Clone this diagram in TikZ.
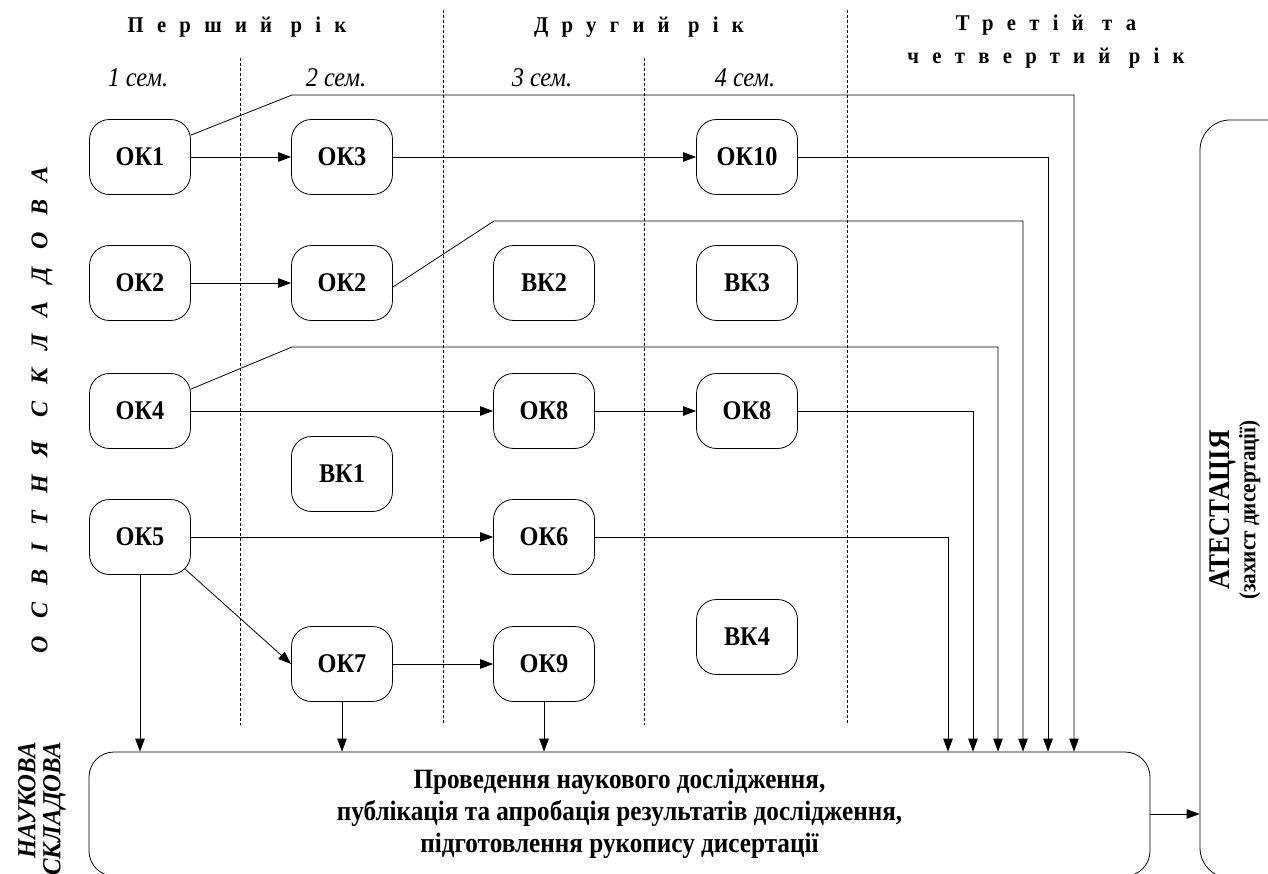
\documentclass[tikz,border=0pt]{standalone}
\usepackage{fontspec}
\setmainfont[FakeStretch=0.9]{Liberation Serif}
\newfontfamily\spfont[LetterSpace=59,FakeStretch=0.92]{Liberation Serif Bold}
\newfontfamily\spvfont[LetterSpace=72]{Liberation Serif Bold Italic}
\newfontfamily\bifont[FakeStretch=0.95]{Liberation Serif Bold Italic}
\newfontfamily\bfont[FakeStretch=0.9]{Liberation Serif Bold}
\usetikzlibrary{arrows.meta,calc}
\begin{document}
\begin{tikzpicture}[x=1pt,y=-1pt,
  box/.style={draw, line width=0.8pt, rounded corners=20pt, minimum width=101pt, minimum height=75pt,
    inner sep=0pt, font=\bfont\fontsize{27}{30}\selectfont},
  arr/.style={line width=0.8pt, -{Triangle[length=13pt,width=9.5pt]}},
  divider/.style={line width=0.6pt, dash pattern=on 3pt off 2pt},
  yearhead/.style={font=\spfont\fontsize{22.5}{33}\selectfont, align=center, inner sep=0pt},
  semlabel/.style={font=\fontsize{27}{30}\selectfont\itshape, inner sep=0pt},
  bigbox/.style={draw, line width=0.8pt, rounded corners=25pt, inner sep=0pt}
]
\useasboundingbox (0,0) rectangle (1268,874);
\clip (0,0) rectangle (1268,874);

% dividers
\draw[divider] (240,58) -- (240,725);
\draw[divider] (443,10) -- (443,725);
\draw[divider] (644,58) -- (644,725);
\draw[divider] (847,10) -- (847,725);

% headings
\node[yearhead] (y1) at (237,27) {Перший рік};
\node[yearhead] (y2) at (639,27) {Другий рік};
\node[yearhead] (y3) at (1046,42) {Третій та\\четвертий рік};

\node[semlabel] (s1) at (138,78) {1 сем.};
\node[semlabel] (s2) at (336,78) {2 сем.};
\node[semlabel] (s3) at (542,78) {3 сем.};
\node[semlabel] (s4) at (745,78) {4 сем.};

% side labels
\node[rotate=90, inner sep=0pt, font=\spvfont\fontsize{24}{26}\selectfont] (osv) at (42,410) {ОСВІТНЯ СКЛАДОВА};
\node[rotate=90, anchor=east, align=right, inner sep=0pt, font=\bifont\fontsize{26}{25}\selectfont] (nauk) at (42,742) {НАУКОВА\\СКЛАДОВА};

% boxes
\node[box] (ok1) at (140,157) {ОК1};
\node[box] (ok3) at (342,157) {ОК3};
\node[box] (ok10) at (747,157) {ОК10};
\node[box] (ok2a) at (140,283) {ОК2};
\node[box] (ok2b) at (342,283) {ОК2};
\node[box] (vk2) at (544,283) {ВК2};
\node[box] (vk3) at (747,283) {ВК3};
\node[box] (ok4) at (140,411) {ОК4};
\node[box] (ok8a) at (544,411) {ОК8};
\node[box] (ok8b) at (747,411) {ОК8};
\node[box] (vk1) at (342,474) {ВК1};
\node[box] (ok5) at (140,537) {ОК5};
\node[box] (ok6) at (544,537) {ОК6};
\node[box] (vk4) at (747,637) {ВК4};
\node[box] (ok7) at (342,664) {ОК7};
\node[box] (ok9) at (544,664) {ОК9};

% research box
\node[bigbox, minimum width=1061pt, minimum height=124pt, align=center,
      font=\bfont\fontsize{28}{32}\selectfont] (res) at (619.5,814)
  {Проведення наукового дослідження,\\публікація та апробація результатів дослідження,\\підготовлення рукопису дисертації};

% attestation box (extends past the right edge)
\node[bigbox, rounded corners=30pt, minimum width=110pt, minimum height=758pt] (att) at (1255,499) {};
\node[rotate=90, align=center, inner sep=0pt, font=\bfont\fontsize{30}{26}\selectfont] (attT) at (1235,510)
  {АТЕСТАЦІЯ\\{\fontsize{23.5}{26}\selectfont (захист дисертації)}};

% coordinates for routed connectors
\coordinate (c1a) at (292,95);
\coordinate (c1b) at (1074,95);
\coordinate (c2) at (1048,157);
\coordinate (c3a) at (494,221);
\coordinate (c3b) at (1023,221);
\coordinate (c4a) at (292,347);
\coordinate (c4b) at (998,347);
\coordinate (c5) at (973,411);
\coordinate (c6) at (948,537);

% connectors
\draw[arr] (ok1) -- (ok3);
\draw[arr] (ok3) -- (ok10);
\draw[arr] ($(ok1.north east)+(0,16)$) -- (c1a) -- (c1b) -- (c1b |- res.north);
\draw[arr] (ok10) -- (c2) -- (c2 |- res.north);
\draw[arr] (ok2a) -- (ok2b);
\draw[arr] ($(ok2b.east)+(0,4)$) -- (c3a) -- (c3b) -- (c3b |- res.north);
\draw[arr] ($(ok4.north east)+(0,16)$) -- (c4a) -- (c4b) -- (c4b |- res.north);
\draw[arr] (ok4) -- (ok8a);
\draw[arr] (ok8a) -- (ok8b);
\draw[arr] (ok8b) -- (c5) -- (c5 |- res.north);
\draw[arr] (ok5) -- (ok6);
\draw[arr] (ok6) -- (c6) -- (c6 |- res.north);
\draw[arr] ($(ok5.south east)+(-5.9,-5.9)$) -- (ok7.west);
\draw[arr] (ok5) -- (ok5 |- res.north);
\draw[arr] (ok7) -- (ok9);
\draw[arr] (ok7) -- (ok7 |- res.north);
\draw[arr] (ok9) -- (ok9 |- res.north);
\draw[arr] (res.east) -- (res.east -| att.west);
\end{tikzpicture}
\end{document}
